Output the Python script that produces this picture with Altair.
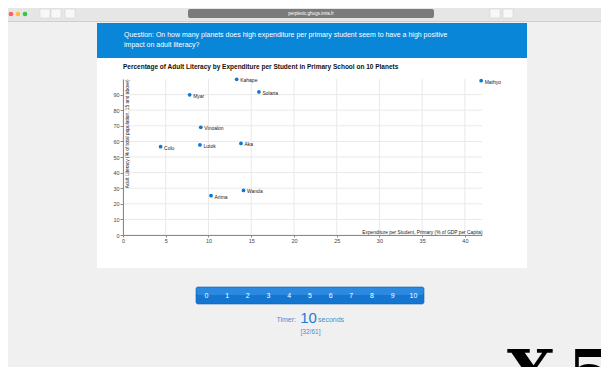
import altair as alt
import pandas as pd

# ---- data ----
planets = ["Kahape", "Solaria", "Myar", "Vinoalon", "Lutok", "Aka", "Colu", "Arima", "Wanda", "Mathyo"]
expenditure = [13.3, 15.9, 7.8, 9.1, 9.0, 13.8, 4.4, 10.3, 14.1, 41.9]
literacy = [99.8, 91.7, 89.9, 69.0, 57.7, 58.7, 56.6, 25.2, 28.6, 98.9]
x_ticks = [0, 5, 10, 15, 20, 25, 30, 35, 40]
y_ticks = [0, 10, 20, 30, 40, 50, 60, 70, 80, 90]
answers = list(range(11))

chart_title = "Percentage of Adult Literacy by Expenditure per Student in Primary School on 10 Planets"
question_1 = "Question: On how many planets does high expenditure per primary student seem to have a high positive"
question_2 = "impact on adult literacy?"
x_title = "Expenditure per Student, Primary (% of GDP per Capita)"
y_title = "Adult Literacy (% of total population, 15 and above)"
url_text = "perplexic.ghogs.inria.fr"

FONT = "Liberation Sans"
BLUE = "#0b78d6"
GRID = "#e9e9e9"

df = pd.DataFrame({"planet": planets, "exp": expenditure, "lit": literacy})
btn = pd.DataFrame({"n": answers})
xt = pd.DataFrame({"v": x_ticks})
yt = pd.DataFrame({"v": y_ticks})
one = pd.DataFrame({"k": [0]})


def rect(x, x2, y, y2, color, **kw):
    return alt.Chart(one).mark_rect(color=color, **kw).encode(
        x=alt.value(x), x2=alt.value(x2), y=alt.value(y), y2=alt.value(y2))


def text(s, x, y, **kw):
    opts = dict(font=FONT, baseline="middle")
    opts.update(kw)
    return alt.Chart(one).mark_text(text=s, **opts).encode(x=alt.value(x), y=alt.value(y))


# page decorations (pixel positions relative to the plot origin)
chrome = rect(-115, 478, -71, -58, "#e6e6e6")
chrome_line = rect(-115, 478, -58, -57, "#cfcfcf")
lights = [
    alt.Chart(one).mark_circle(size=22, color=c, opacity=1).encode(x=alt.value(px), y=alt.value(-65))
    for c, px in [("#fc605c", -112), ("#fdbc40", -105), ("#34c84a", -98)]
]
navs = [rect(a, b, -70, -61, "#f8f8f8", stroke="#cccccc", strokeWidth=0.5)
        for a, b in [(-83, -73), (-72, -62), (-58, -48), (367, 377), (380, 390)]]
urlbar = rect(65, 311, -70, -61, "#7b7b7b", cornerRadius=2)
urltxt = text(url_text, 188, -65.5, align="center", fontSize=4.5, color="#ffffff")

banner = rect(-26, 404, -56, -21, "#0a86d8")
q1 = text(question_1, 1, -43.7, align="left", fontSize=7, color="#ffffff")
q2 = text(question_2, 1, -34, align="left", fontSize=7, color="#ffffff")
panel = rect(-26, 404, -21, 189, "#ffffff")
title = text(chart_title, 0, -12, align="left", fontSize=6.5, fontWeight="bold", color="#111111")

barbg = rect(73, 301, 208, 225, "#1576d2", stroke="#0d5fb0", strokeWidth=0.6, cornerRadius=2)
bartop = rect(73.5, 300.5, 208.5, 216, "#2b8ae0", cornerRadius=2)
buttons = alt.Chart(btn).mark_text(font=FONT, fontSize=7, color="#ffffff", baseline="middle").encode(
    x=alt.X("n:O", scale=alt.Scale(range=[83.4, 290.4], padding=0), axis=None),
    y=alt.value(216.5),
    text="n:N",
)
timer1 = text("Timer:", 173, 240.5, align="right", fontSize=7, color="#3d8fd8")
timer2 = text("10", 185.5, 239, align="center", fontSize=15, color="#1c7bd3")
timer3 = text("seconds", 195, 240.5, align="left", fontSize=7, color="#3d8fd8")
counter = text("[32/61]", 187.5, 253.3, align="center", fontSize=6.5, color="#3d8fd8")
big_x = text("X", 384, 315, align="left", baseline="alphabetic", font="DejaVu Serif",
             fontWeight="bold", fontSize=62, color="#000000")
big_5 = text("5", 445, 315, align="left", baseline="alphabetic", font="DejaVu Serif",
             fontWeight="bold", fontSize=62, color="#000000")

# ---- the scatter plot ----
xs = alt.Scale(domain=[0, 42], nice=False, zero=True)
ys = alt.Scale(domain=[0, 100], nice=False)

x_axis = alt.Axis(values=x_ticks, grid=False, domainColor="#888888",
                  tickColor="#888888", tickSize=2, labelFontSize=5.5, labelColor="#444444",
                  labelFont=FONT, labelPadding=1, labelFlush=False, title=x_title,
                  titleFont=FONT, titleFontSize=4.8, titleFontWeight="normal", titleColor="#222222",
                  titleX=359, titleY=-2, titleAlign="right", titleBaseline="alphabetic", zindex=1)
y_axis = alt.Axis(values=y_ticks, grid=False, domainColor="#888888",
                  tickColor="#888888", tickSize=3, labelFontSize=5.5, labelColor="#444444",
                  labelFont=FONT, labelPadding=1, title=y_title, titleFont=FONT, titleFontSize=4.8,
                  titleFontWeight="normal", titleColor="#222222", titleAngle=270, titleX=1.5,
                  titleY=0, titleAlign="right", titleBaseline="top", zindex=1)

vgrid = alt.Chart(xt).mark_rule(color=GRID, strokeWidth=1).encode(
    x=alt.X("v:Q", scale=xs, axis=None),
    y=alt.value(0), y2=alt.value(156),
)
hgrid = alt.Chart(yt).mark_rule(color=GRID, strokeWidth=1).encode(
    y=alt.Y("v:Q", scale=ys, axis=y_axis),
    x=alt.value(0), x2=alt.value(359),
)

points = alt.Chart(df).mark_circle(size=14, color=BLUE, opacity=1).encode(
    x=alt.X("exp:Q", scale=xs, axis=x_axis),
    y=alt.Y("lit:Q", scale=ys, axis=y_axis),
)
labels = alt.Chart(df).mark_text(align="left", baseline="middle", dx=3.5, dy=1, fontSize=5,
                                 font=FONT, color="#222222").encode(
    x=alt.X("exp:Q", scale=xs, axis=None),
    y=alt.Y("lit:Q", scale=ys, axis=y_axis),
    text="planet:N",
)

chart = alt.layer(
    chrome, chrome_line, *lights, *navs, urlbar, urltxt,
    banner, q1, q2, panel, title,
    vgrid, hgrid, points, labels,
    barbg, bartop, buttons, timer1, timer2, timer3, counter, big_x, big_5,
).resolve_scale(x="independent").properties(
    width=359, height=156,
    padding={"left": 115, "top": 71, "right": 119, "bottom": 132},
    autosize=alt.AutoSizeParams(type="none"),
    background="#f0f0f0",
).configure_view(strokeWidth=0)

chart.save("out.html", embed_options={"renderer": "svg", "actions": False})
